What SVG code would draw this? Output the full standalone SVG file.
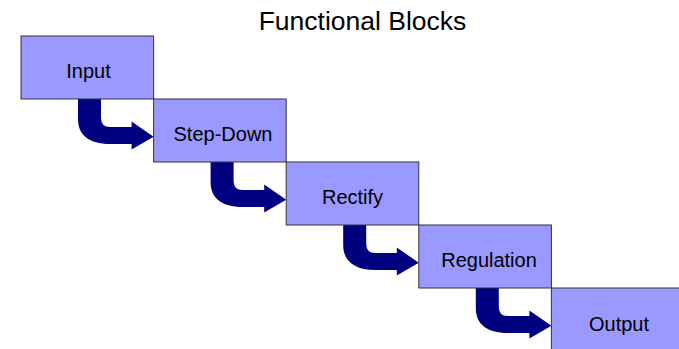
<svg xmlns="http://www.w3.org/2000/svg" width="679" height="349" viewBox="0 0 679 349">
  <style>
    .box { fill: #9999FF; stroke: #333333; stroke-width: 1; }
    .lbl { font-family: "Liberation Sans", Arial, sans-serif; font-size: 20px; fill: #000000; text-anchor: middle; }
    .title { font-family: "Liberation Sans", Arial, sans-serif; font-size: 26.5px; fill: #000000; text-anchor: middle; }
    .arrow { fill: #000080; stroke: none; }
  </style>
  <defs>
    <path id="bend" class="arrow" d="M57,0 L80,0 L80,19 Q80,28 89,28 L110.6,28 L110.6,22.5 L132.6,37.7 L110.6,50.5 L110.6,45 L89,45 C68,45 57,36 57,20 Z"/>
  </defs>
  <rect width="679" height="349" fill="#FFFFFF"/>
  <text class="title" x="362.5" y="29.5">Functional Blocks</text>
  <g id="connectors">
    <use href="#bend" transform="translate(21,99)"/>
    <use href="#bend" transform="translate(153.6,162)"/>
    <use href="#bend" transform="translate(286.2,225)"/>
    <use href="#bend" transform="translate(418.8,288)"/>
  </g>
  <g id="input">
    <rect class="box" x="21" y="36" width="132.6" height="63"/>
    <text class="lbl" x="88.5" y="77.7">Input</text>
  </g>
  <g id="stepdown">
    <rect class="box" x="153.6" y="99" width="132.6" height="63"/>
    <text class="lbl" x="223" y="140.7">Step-Down</text>
  </g>
  <g id="rectify">
    <rect class="box" x="286.2" y="162" width="132.6" height="63"/>
    <text class="lbl" x="352.5" y="203.5">Rectify</text>
  </g>
  <g id="regulation">
    <rect class="box" x="418.8" y="225" width="132.6" height="63"/>
    <text class="lbl" x="489" y="266.7">Regulation</text>
  </g>
  <g id="output">
    <rect class="box" x="551.4" y="288" width="132.6" height="63"/>
    <text class="lbl" x="619" y="331">Output</text>
  </g>
</svg>
